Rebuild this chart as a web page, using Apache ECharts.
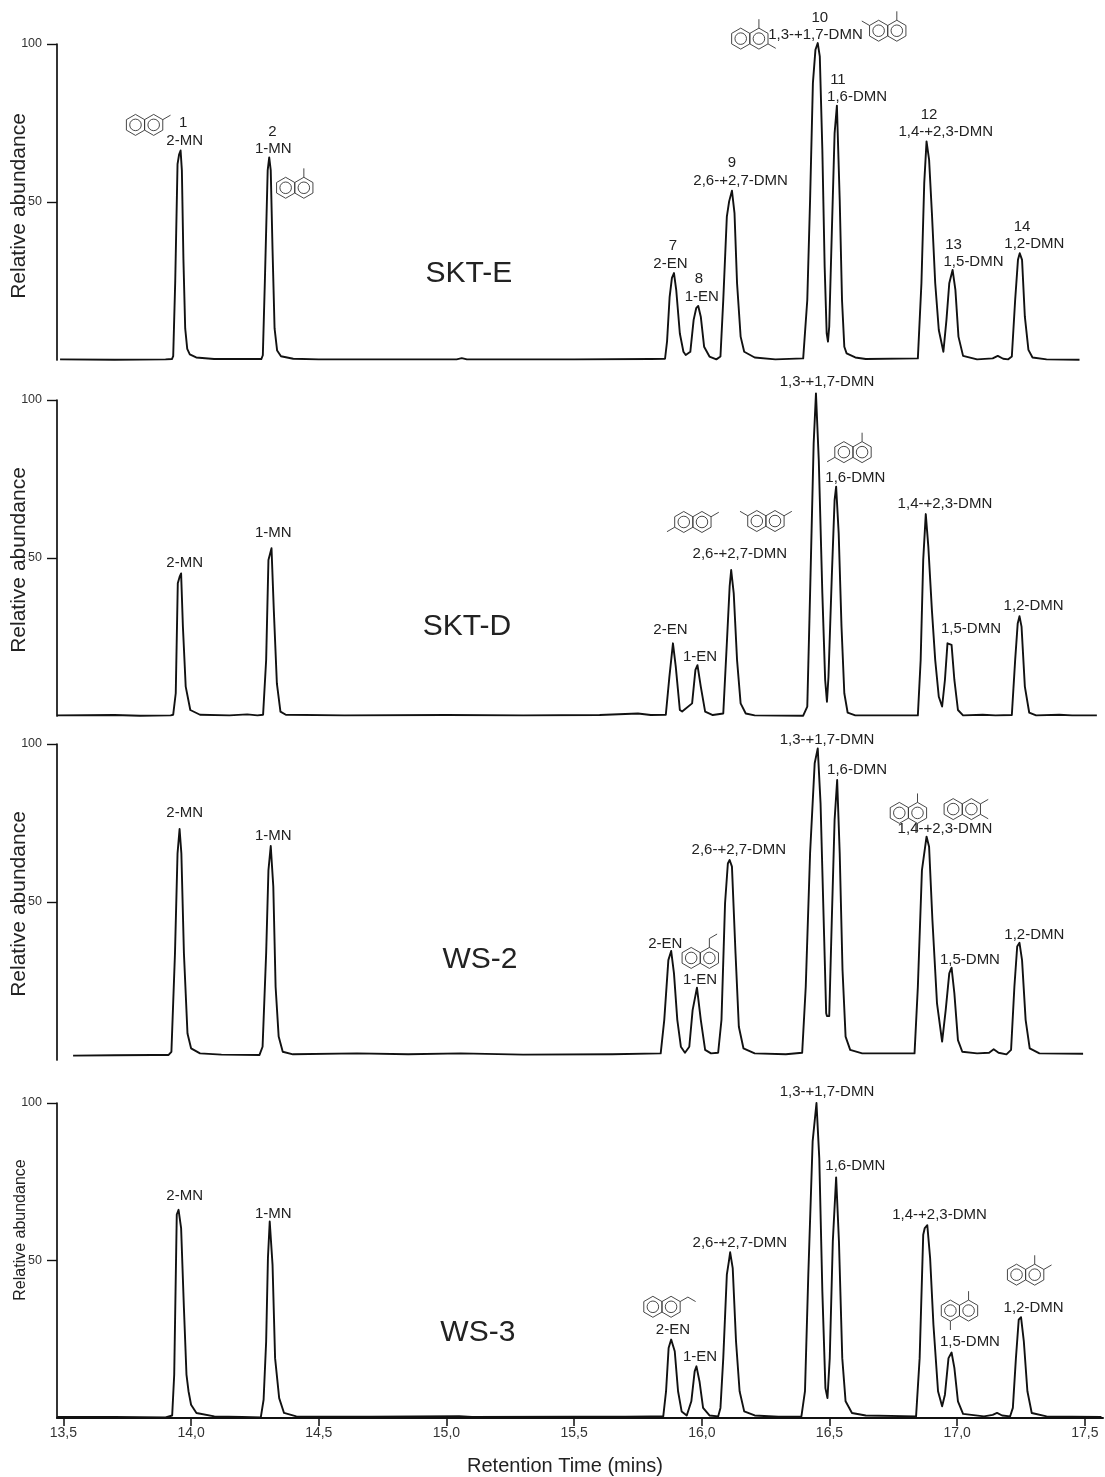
<!DOCTYPE html>
<html>
<head>
<meta charset="utf-8">
<script src="https://cdn.jsdelivr.net/npm/echarts@6/dist/echarts.min.js"></script>
<style>html,body{margin:0;padding:0;background:#fff}#c{width:1105px;height:1477px}</style>
</head>
<body>
<div id="c"></div>
<script>
// ---------- data ----------
const xTicks = [13.5, 14.0, 14.5, 15.0, 15.5, 16.0, 16.5, 17.0, 17.5];
const yTicks = [50, 100];
const sampleNames = ['SKT-E', 'SKT-D', 'WS-2', 'WS-3'];
const sampleAnchors = [[15.088, 27.2], [15.080, 28.2], [15.131, 31.6], [15.123, 27.1]];

const sktE = [
 [13.487,0.2],[13.70,0.1],[13.90,0.2],
 [13.925,0.3],[13.930,1.2],[13.938,25],[13.947,62],[13.953,65],[13.959,66.3],[13.964,60],[13.970,32],[13.977,10],[13.985,3.5],[13.995,1.8],[14.02,0.8],[14.09,0.3],
 [14.275,0.3],[14.281,1.5],[14.289,25],[14.300,60],[14.306,64.1],[14.312,60],[14.319,35],[14.327,10],[14.337,3],[14.352,1.2],[14.40,0.4],[14.50,0.2],
 [14.80,0.2],[15.04,0.2],[15.06,0.6],[15.08,0.2],[15.50,0.2],[15.80,0.3],
 [15.856,0.4],[15.864,6],[15.874,20],[15.883,26],[15.891,27.5],[15.900,22],[15.914,8.4],[15.928,2.6],[15.937,1.6],[15.955,2.6],[15.968,12.7],[15.978,16.4],[15.986,17.1],[15.996,13.7],[16.009,4.2],[16.030,1.1],[16.057,0.2],
 [16.073,1.1],[16.084,19],[16.098,45.4],[16.107,50.2],[16.118,53.6],[16.128,46.5],[16.138,24.3],[16.152,7.4],[16.166,2.6],[16.207,0.8],[16.288,0.2],
 [16.397,0.5],[16.413,19],[16.424,50.7],[16.435,87.6],[16.445,98.2],[16.454,100.3],[16.462,96.1],[16.472,66.5],[16.481,29.6],[16.489,8.4],[16.494,5.8],[16.499,10.6],[16.509,40.1],[16.520,71.8],[16.529,80.5],[16.540,50.7],[16.549,19],[16.558,4.2],[16.567,2.1],[16.601,0.8],[16.642,0.3],
 [16.846,0.5],[16.860,24.3],[16.871,56],[16.880,69.2],[16.890,63.4],[16.901,46.5],[16.914,24.3],[16.928,9.5],[16.946,2.6],[16.958,12.7],[16.969,24.3],[16.982,28.5],[16.993,22.2],[17.005,7.4],[17.023,1.3],[17.078,0.2],
 [17.139,0.5],[17.159,1.3],[17.180,0.4],[17.200,0.2],
 [17.214,1.1],[17.227,19],[17.238,31.7],[17.245,33.8],[17.254,31.7],[17.265,13.7],[17.279,3.2],[17.295,0.8],[17.350,0.2],[17.479,0.1]
];

const sktD = [
 [13.475,0.2],[13.70,0.3],[13.80,0.1],[13.92,0.2],
 [13.930,0.4],[13.940,7.2],[13.948,42],[13.955,44],[13.961,45.1],[13.968,28.3],[13.979,9.3],[13.997,1.9],[14.035,0.4],[14.15,0.2],[14.22,0.5],[14.26,0.2],
 [14.282,0.4],[14.294,17.7],[14.303,49.4],[14.315,53.1],[14.324,33.5],[14.336,10.3],[14.350,1.4],[14.371,0.4],[14.60,0.2],[15.00,0.3],[15.30,0.2],[15.60,0.3],[15.75,0.8],[15.80,0.3],
 [15.859,0.4],[15.873,12.4],[15.887,23],[15.898,15.6],[15.914,1.9],[15.923,1.4],[15.962,4],[15.975,14.6],[15.983,16.1],[15.996,9.3],[16.013,1.4],[16.043,0.3],
 [16.084,0.8],[16.098,23],[16.109,41],[16.115,46.2],[16.125,38.8],[16.138,17.7],[16.152,4],[16.172,0.8],[16.207,0.2],
 [16.397,0.1],[16.413,3],[16.424,38.8],[16.438,86.3],[16.447,102.1],[16.458,81],[16.472,38.8],[16.483,11.4],[16.490,4.5],[16.496,12.4],[16.509,44.1],[16.520,68.4],[16.526,72.6],[16.536,57.8],[16.547,28.3],[16.558,7.2],[16.571,1.1],[16.601,0.2],
 [16.846,0.2],[16.857,17.7],[16.867,49.4],[16.877,63.9],[16.887,53.6],[16.901,33.5],[16.914,17.7],[16.928,6.1],[16.941,3],[16.952,11.4],[16.962,23],[16.969,23.5],[16.978,22.5],[16.989,11.4],[17.003,1.9],[17.023,0.2],[17.10,0.4],[17.15,0.2],
 [17.214,0.3],[17.227,17.7],[17.237,29.3],[17.244,31.6],[17.252,28.3],[17.265,9.3],[17.282,1.1],[17.309,0.2],[17.40,0.4],[17.45,0.2],[17.547,0.2]
];

const ws2 = [
 [13.538,1.4],[13.70,1.5],[13.85,1.6],
 [13.912,1.6],[13.923,2.6],[13.937,33.8],[13.947,65.4],[13.955,73.1],[13.962,65.4],[13.972,33.8],[13.986,8.4],[14.000,3.7],[14.035,2.1],[14.119,1.7],
 [14.268,1.6],[14.280,4.2],[14.294,33.8],[14.303,60.1],[14.312,67.7],[14.322,54.9],[14.331,23.2],[14.343,7.4],[14.359,2.6],[14.399,1.8],[14.65,2.1],[14.85,1.8],[15.056,2.1],[15.30,1.7],[15.649,1.8],
 [15.839,2.1],[15.853,12.7],[15.869,31.6],[15.880,34.5],[15.891,27.4],[15.904,12.7],[15.918,4.2],[15.934,2.3],[15.951,4.2],[15.964,15.8],[15.981,22.9],[15.996,12.7],[16.013,3.2],[16.036,2.1],
 [16.064,2.3],[16.077,12.7],[16.091,49.6],[16.102,62.2],[16.109,63.3],[16.118,61.2],[16.132,33.8],[16.145,10.5],[16.163,3.7],[16.207,2.1],[16.329,1.8],
 [16.393,2.3],[16.407,23.2],[16.424,65.4],[16.442,93.9],[16.454,98.6],[16.465,81.2],[16.479,39],[16.487,14.8],[16.490,13.9],[16.499,13.9],[16.509,44.3],[16.520,76],[16.530,88.6],[16.540,65.4],[16.551,28.5],[16.563,7.4],[16.581,3.2],[16.628,2.1],
 [16.833,2.1],[16.846,23.2],[16.862,60.1],[16.880,70.7],[16.890,67.5],[16.903,44.3],[16.921,17.9],[16.941,5.8],[16.955,15.8],[16.969,27.4],[16.978,29.2],[16.989,21.1],[17.003,6.3],[17.020,2.6],[17.078,2.1],
 [17.125,2.3],[17.143,3.4],[17.162,2.3],[17.193,1.8],
 [17.211,3.2],[17.224,23.2],[17.235,35.9],[17.244,37.1],[17.254,31.6],[17.268,12.7],[17.284,3.7],[17.322,2.1],[17.493,2.0]
];

const ws3 = [
 [13.475,0.3],[13.70,0.3],[13.90,0.2],
 [13.926,0.8],[13.934,13.8],[13.944,64.6],[13.951,66.1],[13.961,60.3],[13.972,34.9],[13.982,13.8],[13.990,8.5],[14.000,4.2],[14.021,1.6],[14.091,0.5],[14.20,0.3],
 [14.273,0.2],[14.284,5.8],[14.294,24.3],[14.301,50.8],[14.308,62.4],[14.319,48.7],[14.329,19],[14.345,6.3],[14.364,1.6],[14.412,0.5],[14.70,0.4],[15.05,0.6],[15.10,0.3],[15.50,0.4],[15.70,0.4],[15.80,0.5],
 [15.849,0.5],[15.860,8.5],[15.870,22.2],[15.880,24.9],[15.894,21.2],[15.907,8.5],[15.921,2.1],[15.941,0.8],[15.959,5.3],[15.972,14.8],[15.979,16.4],[15.991,11.6],[16.005,3.2],[16.030,0.8],[16.064,0.5],
 [16.073,3.2],[16.084,19],[16.098,45.5],[16.106,49.7],[16.111,52.6],[16.121,47.6],[16.134,24.3],[16.148,8.5],[16.166,2.1],[16.207,0.8],[16.30,0.4],
 [16.390,0.5],[16.404,8.5],[16.417,45.5],[16.434,87.8],[16.449,100],[16.460,82.5],[16.472,40.2],[16.484,9.5],[16.492,6.3],[16.501,19],[16.513,56.1],[16.526,76.4],[16.537,56.1],[16.550,19],[16.563,5.3],[16.588,1.6],[16.642,0.8],
 [16.839,0.5],[16.853,19],[16.867,58.2],[16.873,60.3],[16.883,61.2],[16.894,50.8],[16.907,29.6],[16.925,8.5],[16.941,3.7],[16.952,7.4],[16.966,19],[16.978,20.8],[16.989,15.9],[17.003,5.3],[17.023,1.3],[17.105,0.5],
 [17.139,1.0],[17.156,1.6],[17.176,0.8],[17.207,0.5],
 [17.218,3.2],[17.230,19],[17.241,31.2],[17.250,32],[17.261,24.3],[17.275,8.5],[17.292,1.6],[17.350,0.5],[17.45,0.4],[17.565,0.3]
];

// peak labels: [text, retention time, abundance]
const labelsSKTE = [
 ['1',13.969,75.0],['2-MN',13.975,69.5],['2',14.319,72.3],['1-MN',14.322,66.8],
 ['7',15.887,36.1],['2-EN',15.877,30.4],['8',15.989,25.6],['1-EN',16.000,20.1],
 ['9',16.118,62.5],['2,6-+2,7-DMN',16.152,56.7],['10',16.462,108.2],['1,3-+1,7-DMN',16.445,102.9],
 ['11',16.533,88.7],['1,6-DMN',16.608,83.4],['12',16.890,77.6],['1,4-+2,3-DMN',16.955,72.3],
 ['13',16.986,36.4],['1,5-DMN',17.064,31.2],['14',17.254,42.2],['1,2-DMN',17.302,36.9]
];
const labelsSKTD = [
 ['2-MN',13.975,48.6],['1-MN',14.322,58.0],['2-EN',15.877,27.4],['1-EN',15.993,18.8],
 ['2,6-+2,7-DMN',16.149,51.2],['1,3-+1,7-DMN',16.490,105.6],['1,6-DMN',16.601,75.5],
 ['1,4-+2,3-DMN',16.952,67.1],['1,5-DMN',17.054,27.7],['1,2-DMN',17.299,34.8]
];
const labelsWS2 = [
 ['2-MN',13.975,78.3],['1-MN',14.322,70.9],['2-EN',15.857,36.6],['1-EN',15.993,25.3],
 ['2,6-+2,7-DMN',16.145,66.5],['1,3-+1,7-DMN',16.490,101.3],['1,6-DMN',16.608,91.8],
 ['1,4-+2,3-DMN',16.952,73.3],['1,5-DMN',17.050,31.6],['1,2-DMN',17.302,39.6]
];
const labelsWS3 = [
 ['2-MN',13.975,70.4],['1-MN',14.322,64.8],['2-EN',15.887,28.0],['1-EN',15.993,19.3],
 ['2,6-+2,7-DMN',16.149,55.6],['1,3-+1,7-DMN',16.490,103.4],['1,6-DMN',16.601,79.9],
 ['1,4-+2,3-DMN',16.931,64.6],['1,5-DMN',17.050,24.3],['1,2-DMN',17.299,34.9]
];

// structure sketches: [panel, retention time, abundance, substituent positions]
const structures = [
 [0,13.818,74.4,['2']],[0,14.406,54.5,['1']],[0,16.188,101.7,['1','3']],[0,16.728,104.2,['1','7']],
 [1,15.965,61.4,['2','6']],[1,16.251,61.7,['2','7']],[1,16.592,83.5,['1','6']],
 [2,15.994,32.3,['1e']],[2,16.809,78.2,['1','4']],[2,17.020,79.4,['2','3']],
 [3,15.844,35.3,['2e']],[3,17.009,34.1,['1','5']],[3,17.268,45.5,['1','2']]
];

const traces = [sktE, sktD, ws2, ws3];
const panelLabels = [labelsSKTE, labelsSKTD, labelsWS2, labelsWS3];

// ---------- layout ----------
const FONT = 'Liberation Sans, Arial, Helvetica, sans-serif';
const gridBoxes = [
  {left:57, top:44, width:1046, height:316},
  {left:57, top:400, width:1046, height:316},
  {left:57, top:744, width:1046, height:316},
  {left:57, top:1103, width:1046, height:315}
];

const chart = echarts.init(document.getElementById('c'), null, {renderer:'canvas'});

const option = {
  animation: false,
  backgroundColor: '#fff',
  grid: gridBoxes,
  xAxis: gridBoxes.map((g, i) => ({
    type: 'value', gridIndex: i, min: 13.475, max: 17.571,
    show: i === 3,
    axisLine: {show: true, onZero: false, lineStyle: {color: '#111', width: 2}},
    axisTick: {show: true, customValues: xTicks, length: 8, lineStyle: {color: '#111', width: 1.5}},
    axisLabel: {show: true, customValues: xTicks, margin: 8, fontSize: 14, color: '#333', fontFamily: FONT,
      formatter: v => v.toFixed(1).replace('.', ',')},
    splitLine: {show: false}
  })),
  yAxis: gridBoxes.map((g, i) => ({
    type: 'value', gridIndex: i, min: 0, max: 100,
    axisLine: {show: true, onZero: false, lineStyle: {color: '#111', width: 1.7}},
    axisTick: {show: true, customValues: yTicks, length: 10, lineStyle: {color: '#111', width: 1.4}},
    axisLabel: {show: true, customValues: yTicks, margin: 15, fontSize: 12.5, color: '#333', fontFamily: FONT},
    splitLine: {show: false}
  })),
  series: traces.map((d, i) => ({
    type: 'line', xAxisIndex: i, yAxisIndex: i, data: d,
    showSymbol: false, symbol: 'none', smooth: false, clip: false,
    lineStyle: {color: '#111', width: 1.9, join: 'round'}
  }))
};
chart.setOption(option);

// ---------- annotations ----------
function naph(cx, cy, subs, r) {
  const w = Math.sqrt(3) * r;
  const els = [];
  const L = [cx - w / 2, cy], R = [cx + w / 2, cy];
  const sty = {fill: 'transparent', stroke: '#333', lineWidth: 0.9};
  [L, R].forEach(c => {
    const pts = [];
    for (let k = 0; k < 6; k++) {
      const a = (-90 + 60 * k) * Math.PI / 180;
      pts.push([c[0] + r * Math.cos(a), c[1] + r * Math.sin(a)]);
    }
    els.push({type: 'polygon', silent: true, shape: {points: pts}, style: sty});
    els.push({type: 'circle', silent: true, shape: {cx: c[0], cy: c[1], r: r * 0.55}, style: sty});
  });
  const pos = {
    1: [R[0], cy - r, -90], 2: [R[0] + w / 2, cy - r / 2, -30], 3: [R[0] + w / 2, cy + r / 2, 30], 4: [R[0], cy + r, 90],
    5: [L[0], cy + r, 90], 6: [L[0] - w / 2, cy + r / 2, 150], 7: [L[0] - w / 2, cy - r / 2, 210], 8: [L[0], cy - r, -90]
  };
  subs.forEach(s => {
    const ethyl = s.endsWith('e');
    const p = pos[parseInt(s, 10)];
    const len = r * 0.85;
    const a = p[2] * Math.PI / 180;
    const p1 = [p[0] + len * Math.cos(a), p[1] + len * Math.sin(a)];
    const pts = [[p[0], p[1]], p1];
    if (ethyl) {
      const a2 = (p[2] + 60) * Math.PI / 180;
      pts.push([p1[0] + len * Math.cos(a2), p1[1] + len * Math.sin(a2)]);
    }
    els.push({type: 'polyline', silent: true, shape: {points: pts}, style: {stroke: '#333', lineWidth: 0.9, fill: null}});
  });
  return els;
}

function txt(x, y, text, size, extra) {
  return Object.assign({
    type: 'text', silent: true, x: x, y: y,
    style: {text: text, fill: '#222', fontSize: size, fontFamily: FONT,
      align: 'center', verticalAlign: 'middle', textAlign: 'center', textVerticalAlign: 'middle'}
  }, extra || {});
}

const gfx = [];
panelLabels.forEach((labels, i) => {
  labels.forEach(([t, x, v]) => {
    const p = chart.convertToPixel({gridIndex: i}, [x, v]);
    gfx.push(txt(p[0], p[1], t, 15));
  });
});
sampleNames.forEach((n, i) => {
  const p = chart.convertToPixel({gridIndex: i}, sampleAnchors[i]);
  gfx.push(txt(p[0], p[1], n, 30));
});
structures.forEach(([i, x, v, subs]) => {
  const p = chart.convertToPixel({gridIndex: i}, [x, v]);
  naph(p[0], p[1], subs, 10.5).forEach(e => gfx.push(e));
});
// axis titles
const yNamePos = [[19, 206, 21], [19, 560, 21], [19, 904, 21], [21, 1230, 16]];
yNamePos.forEach(([x, y, s]) => gfx.push(txt(x, y, 'Relative abundance', s, {rotation: Math.PI / 2})));
gfx.push(txt(565, 1466, 'Retention Time (mins)', 20));

chart.setOption({graphic: {elements: gfx}});
</script>
</body>
</html>
